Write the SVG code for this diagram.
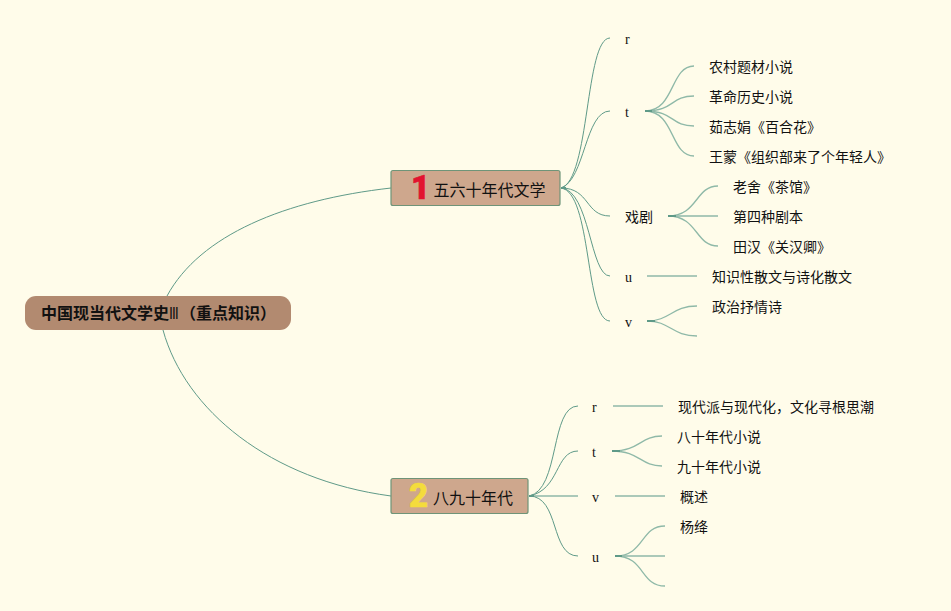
<svg xmlns="http://www.w3.org/2000/svg" width="951" height="611" viewBox="0 0 951 611">
<style>
text{font-family:"Noto Sans CJK SC","Liberation Sans",sans-serif;font-size:14px;fill:#111}
.l{font-family:"Liberation Serif",serif;font-size:14px}
.c path{fill:none;stroke:#5f9a88;stroke-width:1}
.c .f{stroke:#8fb9a8;stroke-width:1.3}
.c .s{stroke:#5f9a88;stroke-width:2}
.t{fill:#cea78d;stroke:#6f9478;stroke-width:1.2}
.n{font-size:16px}
.i{font-family:Roboto,"Liberation Sans",sans-serif;font-size:33px;font-weight:900;stroke-width:.6;stroke-linejoin:round}
.r{font-size:16px;font-weight:700}
</style>
<rect width="951" height="611" fill="#fffcea"/>
<g id="connectors" class="c">
<path d="M167 296C200 235 285 200 391 188"/>
<path d="M163 330C185 410 270 480 391 496"/>
<path d="M561 188C590 180 585 38 610 38"/>
<path d="M561 188C585 180 585 111 610 111"/>
<path d="M561 188C590 188 585 216 610 216"/>
<path d="M561 188C590 190 590 276 610 276"/>
<path d="M561 188C592 192 585 321 610 321"/>
<path d="M645 111C675 111 670 66 694 66" class="f"/>
<path d="M645 111C675 111 670 96 694 96" class="f"/>
<path d="M645 111C675 111 670 126 694 126" class="f"/>
<path d="M645 111C675 111 670 156 694 156" class="f"/>
<path d="M668 216C698 216 695 186 718 186" class="f"/>
<path d="M668 216H718" class="f"/>
<path d="M668 216C698 216 695 246 718 246" class="f"/>
<path d="M647 276H697" class="f"/>
<path d="M647 321C670 321 672 306 697 306" class="f"/>
<path d="M647 321C670 321 672 336 697 336" class="f"/>
<path d="M529 496C560 490 550 406 578 406"/>
<path d="M529 496C560 490 555 451 578 451"/>
<path d="M529 496H578" class="f"/>
<path d="M529 496C560 496 550 556 578 556"/>
<path d="M613 406H663" class="f"/>
<path d="M612 451C640 451 640 436 662 436" class="f"/>
<path d="M612 451C640 451 640 466 662 466" class="f"/>
<path d="M615 496H665" class="f"/>
<path d="M615 556C645 556 640 526 665 526" class="f"/>
<path d="M615 556H665" class="f"/>
<path d="M615 556C645 556 640 586 665 586" class="f"/>
<path class="s" d="M645 111H652M668 216H676M647 321H655M612 451H620M615 556H622M561 188H566M529 496H534"/>
</g>
<g id="root"><rect x="25" y="296" width="266" height="34" rx="11" fill="#b28a70"/><text class="r" x="41" y="319">中国现当代文学史</text><text class="r" transform="translate(169.500 319) scale(.55 1)">Ⅲ</text><text class="r" x="180" y="319">（重点知识）</text></g>
<g id="n1"><rect class="t" x="391" y="170.500" width="169" height="35" rx="2"/><text class="i" x="411" y="199" style="fill:#e2132f;stroke:#e2132f">1</text><text class="n" x="433.500" y="195.500">五六十年代文学</text></g>
<g id="n2"><rect class="t" x="391" y="478.500" width="137" height="35" rx="2"/><text class="i" x="409" y="507" style="fill:#f4dc3c;stroke:#f4dc3c">2</text><text class="n" x="433" y="503.500">八九十年代</text></g>
<g id="a-r"><text class="l" x="625" y="44">r</text></g>
<g id="a-t"><text class="l" x="625" y="117">t</text></g>
<g id="a-x"><text x="625" y="222">戏剧</text></g>
<g id="a-u"><text class="l" x="625" y="282">u</text></g>
<g id="a-v"><text class="l" x="625" y="327">v</text></g>
<g id="t1"><text x="709" y="72">农村题材小说</text></g>
<g id="t2"><text x="709" y="102">革命历史小说</text></g>
<g id="t3"><text x="709" y="132">茹志娟《百合花》</text></g>
<g id="t4"><text x="709" y="162">王蒙《组织部来了个年轻人》</text></g>
<g id="x1"><text x="733" y="192">老舍《茶馆》</text></g>
<g id="x2"><text x="733" y="222">第四种剧本</text></g>
<g id="x3"><text x="733" y="252">田汉《关汉卿》</text></g>
<g id="u1"><text x="712" y="282">知识性散文与诗化散文</text></g>
<g id="v1"><text x="712" y="312">政治抒情诗</text></g>
<g id="b-r"><text class="l" x="592" y="412">r</text></g>
<g id="b-t"><text class="l" x="592" y="457">t</text></g>
<g id="b-v"><text class="l" x="592" y="502">v</text></g>
<g id="b-u"><text class="l" x="592" y="562">u</text></g>
<g id="r1"><text x="678" y="412">现代派与现代化，文化寻根思潮</text></g>
<g id="bt1"><text x="677" y="442">八十年代小说</text></g>
<g id="bt2"><text x="677" y="472">九十年代小说</text></g>
<g id="bv1"><text x="680" y="502">概述</text></g>
<g id="bu1"><text x="680" y="532">杨绛</text></g>
</svg>
